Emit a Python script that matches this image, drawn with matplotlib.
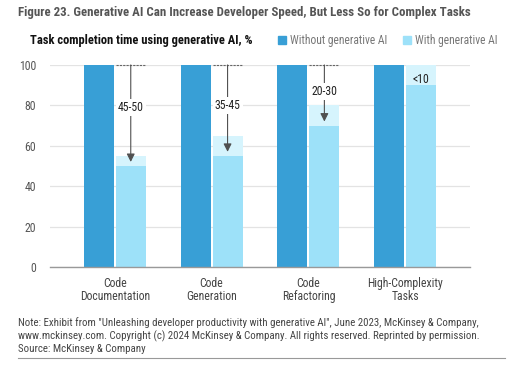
import numpy as np
import matplotlib
matplotlib.use("Agg")
import matplotlib.pyplot as plt
from matplotlib.patches import Patch

plt.rcParams['font.family'] = ['Roboto Condensed', 'DejaVu Sans']

# Data
tasks = ["Code\nDocumentation", "Code\nGeneration", "Code\nRefactoring", "High-Complexity\nTasks"]
without_ai = [100, 100, 100, 100]
with_ai_low = [50, 55, 70, 90]     # solid part of the "with AI" bar
with_ai_high = [55, 65, 80, 100]   # top of the pale range band
savings = ["45-50", "35-45", "20-30", "<10"]
label_y = [79, 80, 87, 93]

dark = "#389fd6"
light = "#9de1f9"
pale = "#d6f4fd"

fig = plt.figure(figsize=(5.2, 3.66), dpi=100)
ax = fig.add_axes([0.096, 0.2705, 0.808, 0.552])

x = np.arange(len(tasks))
w = 0.31
off = 0.165

ax.bar(x - off, without_ai, w, color=dark, zorder=2)
ax.bar(x + off, with_ai_high, w, color=pale, zorder=2)
ax.bar(x + off, with_ai_low, w, color=light, zorder=2)

for i in range(len(tasks)):
    xi = x[i] + off
    if i < 3:
        ax.hlines(100, xi - w / 2, xi + w / 2, colors="#666666", linestyles=(0, (2, 1)),
                  lw=0.8, zorder=3, clip_on=False)
        ax.annotate("", xy=(xi, with_ai_low[i] + 2), xytext=(xi, 100),
                    arrowprops=dict(arrowstyle="-|>", color="#505050", lw=0.8,
                                    mutation_scale=12, shrinkA=0, shrinkB=0), zorder=4)
        ax.text(xi, label_y[i], savings[i], ha="center", va="center", fontsize=8.5,
                color="#222222", zorder=5,
                bbox=dict(facecolor="white", edgecolor="none", pad=1.5))
    else:
        ax.text(xi, label_y[i], savings[i], ha="center", va="center", fontsize=8.5,
                color="#222222", zorder=5)

ax.set_xlim(-0.67, 3.67)
ax.set_ylim(0, 100)
ax.set_yticks([0, 20, 40, 60, 80, 100])
ax.set_xticks(x)
ax.set_xticklabels(tasks, fontsize=8.5, color="#444444", linespacing=1.05)
ax.tick_params(axis="y", labelsize=8.5, labelcolor="#555555", length=0, pad=10)
ax.tick_params(axis="x", length=0, pad=7)
ax.yaxis.grid(True, color="#e3e3e3", lw=0.9, zorder=0)
ax.set_axisbelow(True)
for s in ["top", "right", "left"]:
    ax.spines[s].set_visible(False)
ax.spines["bottom"].set_color("#999999")
ax.spines["bottom"].set_linewidth(1.0)

# Titles
fig.text(0.035, 0.967, "Figure 23. Generative AI Can Increase Developer Speed, But Less So for Complex Tasks",
         fontsize=9.3, fontweight="bold", color="#555555", va="center")
fig.text(0.058, 0.89, "Task completion time using generative AI, %",
         fontsize=9, fontweight="bold", color="#111111", va="center")

handles = [Patch(color=dark, label="Without generative AI"),
           Patch(color=light, label="With generative AI")]
fig.legend(handles=handles, loc="center left", bbox_to_anchor=(0.515, 0.89), ncol=2,
           frameon=False, fontsize=8.3, handlelength=0.7, handleheight=0.7,
           handletextpad=0.35, columnspacing=1.3, labelcolor="#777777")

note = ("Note: Exhibit from \"Unleashing developer productivity with generative AI\", June 2023, McKinsey & Company,\n"
        "www.mckinsey.com. Copyright (c) 2024 McKinsey & Company. All rights reserved. Reprinted by permission.\n"
        "Source: McKinsey & Company")
fig.text(0.035, 0.083, note, fontsize=7.85, color="#444444", va="center", linespacing=1.25)
fig.add_artist(plt.Line2D([0.035, 0.972], [0.022, 0.022], color="#999999", lw=0.8))

fig.savefig("out.png", dpi=100)
